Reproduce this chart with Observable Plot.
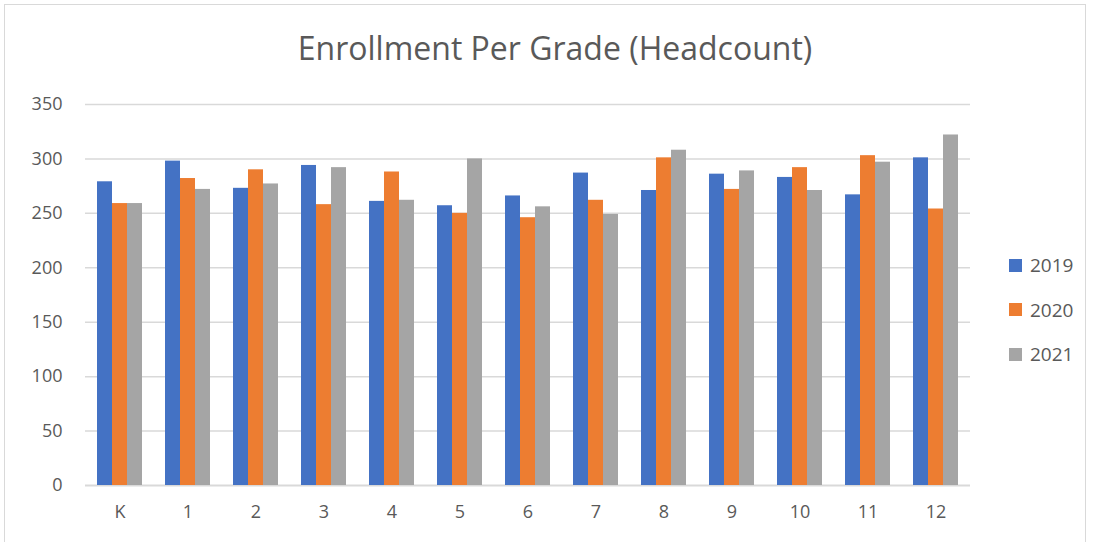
<!DOCTYPE html>
<html>
<head>
<meta charset="utf-8">
<script src="https://cdn.jsdelivr.net/npm/d3@7"></script>
<script src="https://cdn.jsdelivr.net/npm/@observablehq/plot@0.6"></script>
<style>
  html, body { margin: 0; padding: 0; background: #fff; width: 1093px; height: 542px; overflow: hidden; }
  body { font-family: "Open Sans", "Noto Sans", sans-serif; position: relative; }
  #frame { position: absolute; left: 4px; top: 4px; width: 1082px; height: 545px; border: 1.5px solid #d9d9d9; box-sizing: border-box; }
  #title { position: absolute; left: 0; width: 1110px; top: 26px; text-align: center; font-size: 32px; color: #595959; }
  #chart { position: absolute; left: 0; top: 90px; }
  #legend { position: absolute; left: 1009px; top: 243px; }
  .li { display: flex; align-items: center; height: 44.5px; font-size: 19px; color: #595959; }
  .sw { width: 13px; height: 13px; margin-right: 8px; }
</style>
</head>
<body>
<div id="frame"></div>
<div id="title">Enrollment Per Grade (Headcount)</div>
<div id="chart"></div>
<div id="legend"></div>
<script>
const grades = ["K","1","2","3","4","5","6","7","8","9","10","11","12"];
const years = ["2019","2020","2021"];
const v2019 = [279,298,273,294,261,257,266,287,271,286,283,267,301];
const v2020 = [259,282,290,258,288,250,246,262,301,272,292,303,254];
const v2021 = [259,272,277,292,262,300,256,249,308,289,271,297,322];
const colors = ["#4472C4","#ED7D31","#A5A5A5"];
const yTicks = [0,50,100,150,200,250,300,350];

const series = [v2019, v2020, v2021];
const rows = years.map((y, j) => grades.map((g, i) => ({grade: g, year: y, value: series[j][i]})));
const barW = 15;

const chart = Plot.plot({
  width: 1093,
  height: 452,
  marginTop: 14,
  marginBottom: 57,
  marginLeft: 85,
  marginRight: 123,
  style: { fontFamily: "'Open Sans', 'Noto Sans', sans-serif", fontSize: "18px", color: "#595959", background: "transparent" },
  x: { domain: grades, paddingInner: 0.78, paddingOuter: 0.39, label: null, tickSize: 0, tickPadding: 20 },
  y: { domain: [0, 350], ticks: yTicks, label: null, tickSize: 0, tickPadding: 23 },
  color: { domain: years, range: colors },
  marks: [
    Plot.ruleY(yTicks.filter(d => d > 0), { stroke: "#d9d9d9", strokeWidth: 1.5 }),
    Plot.ruleY([0], { stroke: "#d9d9d9", strokeWidth: 2 }),
    ...rows.map((r, j) => Plot.barY(r, { x: "grade", y: "value", fill: "year", dx: (j - 1) * barW }))
  ]
});
document.getElementById("chart").appendChild(chart);

const legend = document.getElementById("legend");
years.forEach((y, i) => {
  const row = document.createElement("div");
  row.className = "li";
  row.innerHTML = `<div class="sw" style="background:${colors[i]}"></div><span>${y}</span>`;
  legend.appendChild(row);
});
</script>
</body>
</html>
